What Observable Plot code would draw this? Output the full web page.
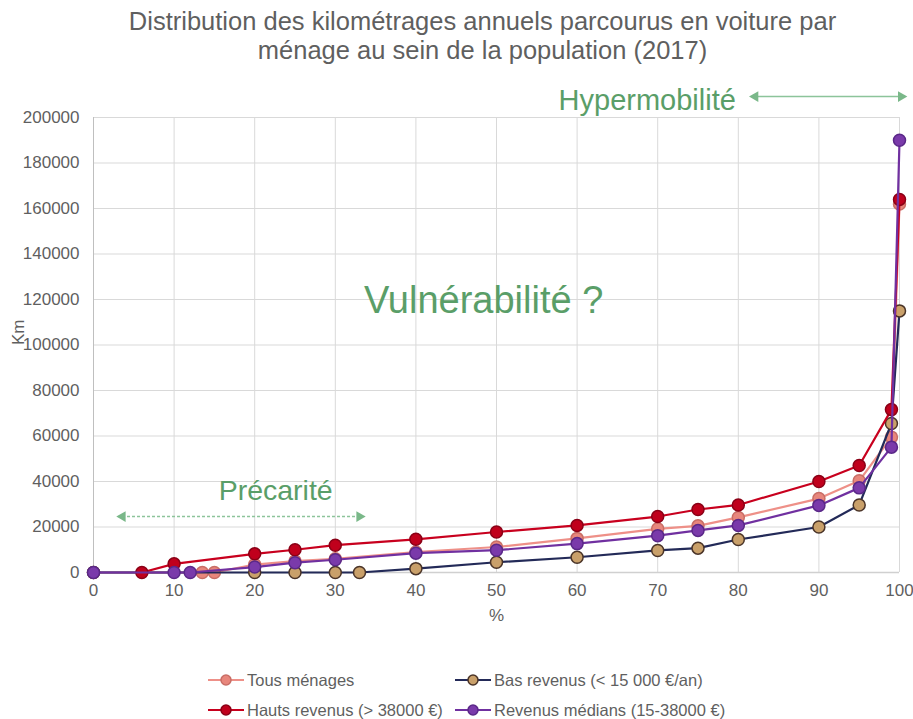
<!DOCTYPE html>
<html><head><meta charset="utf-8">
<script src="https://cdn.jsdelivr.net/npm/d3@7"></script>
<script src="https://cdn.jsdelivr.net/npm/@observablehq/plot@0.6"></script>
<style>
body{margin:0;background:#fff;font-family:"Liberation Sans",Arial,sans-serif;width:913px;height:719px;overflow:hidden;position:relative;}
#title{position:absolute;top:7px;left:26px;width:913px;text-align:center;font-size:25.5px;line-height:29px;color:#5f5f5f;}
#chart{position:absolute;top:70px;left:0;}
.leg{position:absolute;display:flex;align-items:center;font-size:16.5px;color:#5f5f5f;white-space:nowrap;}
.leg svg{margin-right:3px;}
</style></head>
<body>
<div id="title">Distribution des kilométrages annuels parcourus en voiture par<br>ménage au sein de la population (2017)</div>
<div id="chart"></div>
<div id="legend"></div>
<script>
// ---- data ----
const seriesNames = ["Tous ménages", "Bas revenus (< 15 000 €/an)", "Hauts revenus (> 38000 €)", "Revenus médians (15-38000 €)"];
const pctTous = [0, 13.5, 15, 20, 25, 30, 40, 50, 60, 70, 75, 80, 90, 95, 99, 100];
const kmTous  = [0, 0, 0, 3500, 5000, 6000, 9000, 11200, 15000, 19200, 20500, 24200, 32500, 40300, 59500, 162000];
const pctBas = [0, 20, 25, 30, 33, 40, 50, 60, 70, 75, 80, 90, 95, 99, 100];
const kmBas  = [0, 0, 0, 0, 0, 1700, 4500, 6700, 9700, 10700, 14500, 20000, 29700, 65500, 115000];
const pctHauts = [6, 10, 20, 25, 30, 40, 50, 60, 70, 75, 80, 90, 95, 99, 100];
const kmHauts  = [0, 3800, 8200, 10000, 12000, 14600, 17800, 20700, 24600, 27700, 29700, 40000, 47000, 71600, 164000];
const pctMed = [0, 10, 12, 20, 25, 30, 40, 50, 60, 70, 75, 80, 90, 95, 99, 100];
const kmMed  = [0, 0, 0, 2400, 4300, 5600, 8500, 9800, 12700, 16200, 18500, 20700, 29500, 37200, 55100, 190000];
const xTicks = [0, 10, 20, 30, 40, 50, 60, 70, 80, 90, 100];
const yTicks = [0, 20000, 40000, 60000, 80000, 100000, 120000, 140000, 160000, 180000, 200000];
// annotations (data coordinates)
const annoText = ["Vulnérabilité ?", "Précarité", "Hypermobilité"];
const annoX = [48.4, 22.6, 68.7];
const annoY = [119500, 36000, 207500];
const arrowX1 = [3.6, 82.1];
const arrowX2 = [33.0, 100.2];
const arrowY = [24600, 209200];

// ---- styles ----
const lineColors = ["#ee9088", "#232a58", "#c8001e", "#7030a0"];
const dotFill = ["#e8867c", "#c9a06a", "#c0001c", "#7a3aaa"];
const dotStroke = ["#c86e66", "#4a3428", "#8a0016", "#5a2888"];
const green = "#5a9e68";

const pcts = [pctTous, pctBas, pctHauts, pctMed];
const kms = [kmTous, kmBas, kmHauts, kmMed];
const series = seriesNames.map((name, i) => pcts[i].map((p, j) => ({serie: name, pct: p, km: kms[i][j]})));

const marks = [
  Plot.gridX(xTicks, {stroke: "#d9d9d9", strokeOpacity: 1}),
  Plot.gridY(yTicks, {stroke: "#d9d9d9", strokeOpacity: 1}),
  Plot.ruleX([0], {stroke: "#bfbfbf"}),
  Plot.ruleY([0], {stroke: "#d0d0d0", strokeWidth: 1.5}),
  Plot.axisX(xTicks, {tickSize: 0, tickPadding: 11, fontSize: 17, fill: "#5f5f5f", label: null}),
  Plot.axisY(yTicks, {tickSize: 0, tickPadding: 14, fontSize: 17, fill: "#5f5f5f", label: null, tickFormat: d => String(d)}),
  Plot.text(["%"], {frameAnchor: "bottom", dy: 48, fontSize: 17, fill: "#5f5f5f"}),
  Plot.text(["Km"], {frameAnchor: "left", dx: -75, rotate: -90, fontSize: 17, fill: "#5f5f5f"}),
];
series.forEach((d, i) => {
  marks.push(Plot.line(d, {x: "pct", y: "km", stroke: lineColors[i], strokeWidth: 2.2}));
  marks.push(Plot.dot(d, {x: "pct", y: "km", r: 6, fill: dotFill[i], stroke: dotStroke[i], strokeWidth: 1.5}));
});
// annotations
const annoSizes = [38, 28.5, 29];
annoText.forEach((t, i) => {
  marks.push(Plot.text([t], {x: annoX[i], y: annoY[i], fontSize: annoSizes[i], fill: green}));
});
arrowX1.forEach((x1, i) => {
  marks.push(Plot.ruleY([arrowY[i]], {x1: x1, x2: arrowX2[i], stroke: "#8cc49a", strokeWidth: 1.5, strokeDasharray: i === 0 ? "3,2" : null}));
  marks.push(Plot.dot([x1], {x: d => d, y: arrowY[i], symbol: "triangle", rotate: -90, r: 4, fill: "#7ab889", stroke: "none"}));
  marks.push(Plot.dot([arrowX2[i]], {x: d => d, y: arrowY[i], symbol: "triangle", rotate: 90, r: 4, fill: "#7ab889", stroke: "none"}));
});

const chart = Plot.plot({
  width: 913,
  height: 570,
  marginLeft: 93,
  marginRight: 14,
  marginTop: 47,
  marginBottom: 68,
  style: {fontFamily: "'Liberation Sans', Arial, sans-serif", background: "#fff", overflow: "visible"},
  x: {domain: [0, 100]},
  y: {domain: [0, 200000]},
  marks
});
document.getElementById("chart").appendChild(chart);

// legend
const legPos = [[208, 680], [455, 680], [208, 710], [455, 710]];
const legend = document.getElementById("legend");
seriesNames.forEach((name, i) => {
  const div = document.createElement("div");
  div.className = "leg";
  div.style.left = legPos[i][0] + "px";
  div.style.top = (legPos[i][1] - 10) + "px";
  div.style.height = "20px";
  div.innerHTML = `<svg width="36" height="14"><line x1="0" y1="7" x2="36" y2="7" stroke="${lineColors[i]}" stroke-width="2.2"/><circle cx="18" cy="7" r="5" fill="${dotFill[i]}" stroke="${dotStroke[i]}" stroke-width="1.5"/></svg><span>${name}</span>`;
  legend.appendChild(div);
});
</script>
</body></html>
